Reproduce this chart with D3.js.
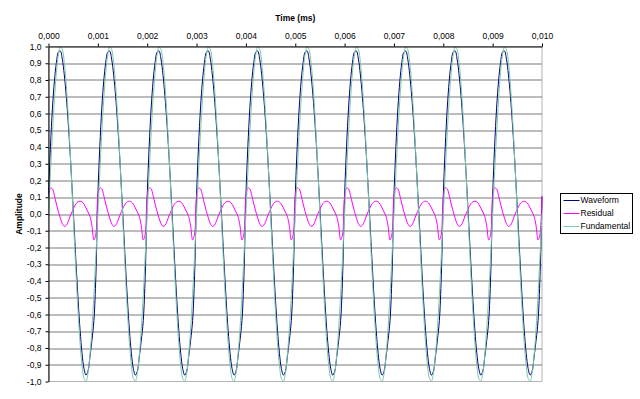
<!DOCTYPE html>
<html>
<head>
<meta charset="utf-8">
<script src="https://cdn.jsdelivr.net/npm/d3@7"></script>
<style>
  body { margin: 0; background: #fff; }
  svg { display: block; font-family: Arial, "Liberation Sans", sans-serif; }
</style>
</head>
<body>
<svg width="640" height="399"></svg>
<script>
// samples every 0.00004 ms, 0 .. 0.010 ms
var sampleStep = 0.00004;

var waveform = [
  0.105, 0.404, 0.632, 0.795, 0.904, 0.966, 0.973, 0.924, 0.831, 0.703, 0.543, 0.356, 0.140, -0.083, -0.306, -0.515, -0.695, -0.833, -0.924, -0.962, -0.939, -0.852, -0.755, -0.637, -0.369,
  0.105, 0.404, 0.632, 0.795, 0.904, 0.966, 0.973, 0.924, 0.831, 0.703, 0.543, 0.356, 0.140, -0.083, -0.306, -0.515, -0.695, -0.833, -0.924, -0.962, -0.939, -0.852, -0.755, -0.637, -0.369,
  0.105, 0.404, 0.632, 0.795, 0.904, 0.966, 0.973, 0.924, 0.831, 0.703, 0.543, 0.356, 0.140, -0.083, -0.306, -0.515, -0.695, -0.833, -0.924, -0.962, -0.939, -0.852, -0.755, -0.637, -0.369,
  0.105, 0.404, 0.632, 0.795, 0.904, 0.966, 0.973, 0.924, 0.831, 0.703, 0.543, 0.356, 0.140, -0.083, -0.306, -0.515, -0.695, -0.833, -0.924, -0.962, -0.939, -0.852, -0.755, -0.637, -0.369,
  0.105, 0.404, 0.632, 0.795, 0.904, 0.966, 0.973, 0.924, 0.831, 0.703, 0.543, 0.356, 0.140, -0.083, -0.306, -0.515, -0.695, -0.833, -0.924, -0.962, -0.939, -0.852, -0.755, -0.637, -0.369,
  0.105, 0.404, 0.632, 0.795, 0.904, 0.966, 0.973, 0.924, 0.831, 0.703, 0.543, 0.356, 0.140, -0.083, -0.306, -0.515, -0.695, -0.833, -0.924, -0.962, -0.939, -0.852, -0.755, -0.637, -0.369,
  0.105, 0.404, 0.632, 0.795, 0.904, 0.966, 0.973, 0.924, 0.831, 0.703, 0.543, 0.356, 0.140, -0.083, -0.306, -0.515, -0.695, -0.833, -0.924, -0.962, -0.939, -0.852, -0.755, -0.637, -0.369,
  0.105, 0.404, 0.632, 0.795, 0.904, 0.966, 0.973, 0.924, 0.831, 0.703, 0.543, 0.356, 0.140, -0.083, -0.306, -0.515, -0.695, -0.833, -0.924, -0.962, -0.939, -0.852, -0.755, -0.637, -0.369,
  0.105, 0.404, 0.632, 0.795, 0.904, 0.966, 0.973, 0.924, 0.831, 0.703, 0.543, 0.356, 0.140, -0.083, -0.306, -0.515, -0.695, -0.833, -0.924, -0.962, -0.939, -0.852, -0.755, -0.637, -0.369,
  0.105, 0.404, 0.632, 0.795, 0.904, 0.966, 0.973, 0.924, 0.831, 0.703, 0.543, 0.356, 0.140, -0.083, -0.306, -0.515, -0.695, -0.833, -0.924, -0.962, -0.939, -0.852, -0.755, -0.637, -0.369,
  0.105
];

var residual = [
  0.105, 0.155, 0.150, 0.110, 0.060, 0.015, -0.025, -0.058, -0.074, -0.068, -0.045, -0.012, 0.015, 0.042, 0.062, 0.073, 0.076, 0.072, 0.058, 0.036, 0.012, -0.015, -0.070, -0.155, -0.120,
  0.105, 0.155, 0.150, 0.110, 0.060, 0.015, -0.025, -0.058, -0.074, -0.068, -0.045, -0.012, 0.015, 0.042, 0.062, 0.073, 0.076, 0.072, 0.058, 0.036, 0.012, -0.015, -0.070, -0.155, -0.120,
  0.105, 0.155, 0.150, 0.110, 0.060, 0.015, -0.025, -0.058, -0.074, -0.068, -0.045, -0.012, 0.015, 0.042, 0.062, 0.073, 0.076, 0.072, 0.058, 0.036, 0.012, -0.015, -0.070, -0.155, -0.120,
  0.105, 0.155, 0.150, 0.110, 0.060, 0.015, -0.025, -0.058, -0.074, -0.068, -0.045, -0.012, 0.015, 0.042, 0.062, 0.073, 0.076, 0.072, 0.058, 0.036, 0.012, -0.015, -0.070, -0.155, -0.120,
  0.105, 0.155, 0.150, 0.110, 0.060, 0.015, -0.025, -0.058, -0.074, -0.068, -0.045, -0.012, 0.015, 0.042, 0.062, 0.073, 0.076, 0.072, 0.058, 0.036, 0.012, -0.015, -0.070, -0.155, -0.120,
  0.105, 0.155, 0.150, 0.110, 0.060, 0.015, -0.025, -0.058, -0.074, -0.068, -0.045, -0.012, 0.015, 0.042, 0.062, 0.073, 0.076, 0.072, 0.058, 0.036, 0.012, -0.015, -0.070, -0.155, -0.120,
  0.105, 0.155, 0.150, 0.110, 0.060, 0.015, -0.025, -0.058, -0.074, -0.068, -0.045, -0.012, 0.015, 0.042, 0.062, 0.073, 0.076, 0.072, 0.058, 0.036, 0.012, -0.015, -0.070, -0.155, -0.120,
  0.105, 0.155, 0.150, 0.110, 0.060, 0.015, -0.025, -0.058, -0.074, -0.068, -0.045, -0.012, 0.015, 0.042, 0.062, 0.073, 0.076, 0.072, 0.058, 0.036, 0.012, -0.015, -0.070, -0.155, -0.120,
  0.105, 0.155, 0.150, 0.110, 0.060, 0.015, -0.025, -0.058, -0.074, -0.068, -0.045, -0.012, 0.015, 0.042, 0.062, 0.073, 0.076, 0.072, 0.058, 0.036, 0.012, -0.015, -0.070, -0.155, -0.120,
  0.105, 0.155, 0.150, 0.110, 0.060, 0.015, -0.025, -0.058, -0.074, -0.068, -0.045, -0.012, 0.015, 0.042, 0.062, 0.073, 0.076, 0.072, 0.058, 0.036, 0.012, -0.015, -0.070, -0.155, -0.120,
  0.105
];

var fundamental = [
  0, 0.249, 0.482, 0.685, 0.844, 0.951, 0.998, 0.982, 0.905, 0.771, 0.588, 0.368, 0.125, -0.125, -0.368, -0.588, -0.771, -0.905, -0.982, -0.998, -0.951, -0.844, -0.685, -0.482, -0.249,
  0, 0.249, 0.482, 0.685, 0.844, 0.951, 0.998, 0.982, 0.905, 0.771, 0.588, 0.368, 0.125, -0.125, -0.368, -0.588, -0.771, -0.905, -0.982, -0.998, -0.951, -0.844, -0.685, -0.482, -0.249,
  0, 0.249, 0.482, 0.685, 0.844, 0.951, 0.998, 0.982, 0.905, 0.771, 0.588, 0.368, 0.125, -0.125, -0.368, -0.588, -0.771, -0.905, -0.982, -0.998, -0.951, -0.844, -0.685, -0.482, -0.249,
  0, 0.249, 0.482, 0.685, 0.844, 0.951, 0.998, 0.982, 0.905, 0.771, 0.588, 0.368, 0.125, -0.125, -0.368, -0.588, -0.771, -0.905, -0.982, -0.998, -0.951, -0.844, -0.685, -0.482, -0.249,
  0, 0.249, 0.482, 0.685, 0.844, 0.951, 0.998, 0.982, 0.905, 0.771, 0.588, 0.368, 0.125, -0.125, -0.368, -0.588, -0.771, -0.905, -0.982, -0.998, -0.951, -0.844, -0.685, -0.482, -0.249,
  0, 0.249, 0.482, 0.685, 0.844, 0.951, 0.998, 0.982, 0.905, 0.771, 0.588, 0.368, 0.125, -0.125, -0.368, -0.588, -0.771, -0.905, -0.982, -0.998, -0.951, -0.844, -0.685, -0.482, -0.249,
  0, 0.249, 0.482, 0.685, 0.844, 0.951, 0.998, 0.982, 0.905, 0.771, 0.588, 0.368, 0.125, -0.125, -0.368, -0.588, -0.771, -0.905, -0.982, -0.998, -0.951, -0.844, -0.685, -0.482, -0.249,
  0, 0.249, 0.482, 0.685, 0.844, 0.951, 0.998, 0.982, 0.905, 0.771, 0.588, 0.368, 0.125, -0.125, -0.368, -0.588, -0.771, -0.905, -0.982, -0.998, -0.951, -0.844, -0.685, -0.482, -0.249,
  0, 0.249, 0.482, 0.685, 0.844, 0.951, 0.998, 0.982, 0.905, 0.771, 0.588, 0.368, 0.125, -0.125, -0.368, -0.588, -0.771, -0.905, -0.982, -0.998, -0.951, -0.844, -0.685, -0.482, -0.249,
  0, 0.249, 0.482, 0.685, 0.844, 0.951, 0.998, 0.982, 0.905, 0.771, 0.588, 0.368, 0.125, -0.125, -0.368, -0.588, -0.771, -0.905, -0.982, -0.998, -0.951, -0.844, -0.685, -0.482, -0.249,
  0
];

var seriesNames = ["Waveform", "Residual", "Fundamental"];
var seriesColors = ["#000080", "#ff00ff", "#7ccaa4"];
var xTicks = [0, 0.001, 0.002, 0.003, 0.004, 0.005, 0.006, 0.007, 0.008, 0.009, 0.010];
var yTicks = [-1.0, -0.9, -0.8, -0.7, -0.6, -0.5, -0.4, -0.3, -0.2, -0.1, 0.0,
              0.1, 0.2, 0.3, 0.4, 0.5, 0.6, 0.7, 0.8, 0.9, 1.0];

var svg = d3.select("svg"),
    margin = {top: 46.5, left: 48.5, right: 98, bottom: 17.5},
    width = +svg.attr("width") - margin.left - margin.right,
    height = +svg.attr("height") - margin.top - margin.bottom,
    g = svg.append("g").attr("transform", "translate(" + margin.left + "," + margin.top + ")");

var time = d3.range(waveform.length).map(function(i) { return i * sampleStep; });

var x = d3.scaleLinear().domain([0, 0.010]).range([0, width]);
var y = d3.scaleLinear().domain([-1, 1]).range([height, 0]);

var comma = function(f) { return function(d) { return f(d).replace(".", ",").replace("−", "-"); }; };

// plot border (light grey)
g.append("rect")
    .attr("width", width).attr("height", height)
    .attr("fill", "#fff")
    .attr("stroke", "#b4b4b4")
    .attr("stroke-width", 1);

// horizontal gridlines
g.append("g")
  .selectAll("line")
  .data(yTicks.filter(function(d) { return Math.abs(d) < 0.99; }))
  .enter().append("line")
    .attr("x1", 0).attr("x2", width)
    .attr("y1", function(d) { return Math.round(y(d)) + 0.5; })
    .attr("y2", function(d) { return Math.round(y(d)) + 0.5; })
    .attr("stroke", "#7a7a7a")
    .attr("stroke-width", 1.2);

var line = d3.line()
    .x(function(d) { return x(d[0]); })
    .y(function(d) { return y(d[1]); })
    .curve(d3.curveCatmullRom);

[waveform, residual, fundamental].forEach(function(s, i) {
  g.append("path")
      .datum(s.map(function(v, j) { return [time[j], v]; }))
      .attr("fill", "none")
      .attr("stroke", seriesColors[i])
      .attr("stroke-width", 1)
      .attr("d", line);
});

// axes
var xAxis = g.append("g")
    .call(d3.axisTop(x).tickValues(xTicks).tickFormat(comma(d3.format(".3f")))
      .tickSizeInner(3).tickSizeOuter(0).tickPadding(5));
var yAxis = g.append("g")
    .call(d3.axisLeft(y).tickValues(yTicks).tickFormat(comma(d3.format(".1f")))
      .tickSizeInner(3).tickSizeOuter(0).tickPadding(4));

[xAxis, yAxis].forEach(function(a) {
  a.selectAll("text").attr("font-size", 8.5).attr("fill", "#000")
      .attr("font-family", "Arial, 'Liberation Sans', sans-serif");
  a.select(".domain").attr("stroke", "#000");
  a.selectAll(".tick line").attr("stroke", "#000");
});

svg.append("text")
    .attr("x", margin.left + width / 2).attr("y", 21)
    .attr("text-anchor", "middle")
    .attr("font-size", 8.5).attr("font-weight", "bold")
    .text("Time (ms)");

svg.append("text")
    .attr("transform", "translate(21.5," + (margin.top + height / 2) + ") rotate(-90)")
    .attr("text-anchor", "middle")
    .attr("font-size", 8.5).attr("font-weight", "bold")
    .text("Amplitude");

// legend
var legend = svg.append("g").attr("transform", "translate(560.5,193.5)");
legend.append("rect")
    .attr("width", 72).attr("height", 40)
    .attr("fill", "#fff").attr("stroke", "#000");
var item = legend.selectAll(".item")
  .data(seriesNames)
  .enter().append("g")
    .attr("transform", function(d, i) { return "translate(0," + (7 + i * 13) + ")"; });
item.append("line")
    .attr("x1", 3).attr("x2", 19)
    .attr("stroke", function(d, i) { return seriesColors[i]; });
item.append("text")
    .attr("x", 20).attr("dy", "0.33em")
    .attr("font-size", 8.5)
    .text(function(d) { return d; });
</script>
</body>
</html>
